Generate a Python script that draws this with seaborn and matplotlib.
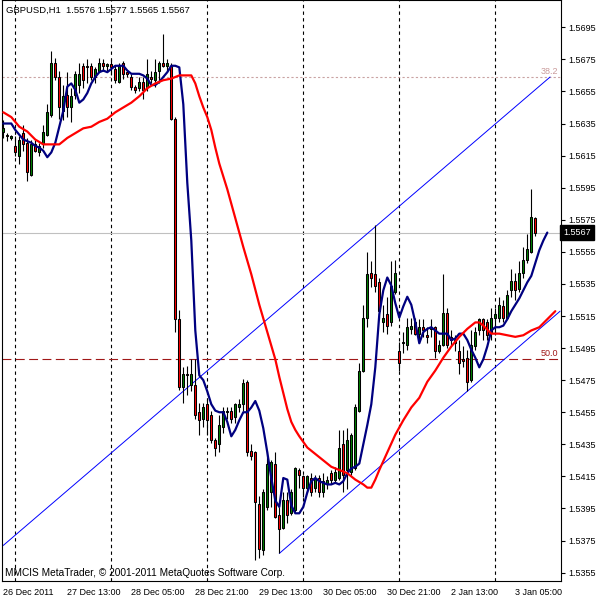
import numpy as np
import pandas as pd
import matplotlib
matplotlib.use("Agg")
import matplotlib.pyplot as plt
import matplotlib.transforms as mtransforms
import seaborn as sns

# GBPUSD H1 candles
opens = [1.5630, 1.5628, 1.5626, 1.5621, 1.5615, 1.5629, 1.5623, 1.5603, 1.5622, 1.5617,
         1.5622, 1.5628, 1.5640, 1.5673, 1.5664, 1.5643, 1.5653, 1.5645, 1.5653, 1.5659,
         1.5671, 1.5671, 1.5671, 1.5664, 1.5668, 1.5673, 1.5671, 1.5672, 1.5669, 1.5661,
         1.5673, 1.5667, 1.5664, 1.5658, 1.5657, 1.5661, 1.5658, 1.5664, 1.5662, 1.5668,
         1.5673, 1.5671, 1.5671, 1.5638, 1.5513, 1.5471, 1.5479, 1.5472, 1.5472, 1.5455,
         1.5451, 1.5460, 1.5453, 1.5438, 1.5435, 1.5446, 1.5455, 1.5456, 1.5452, 1.5458,
         1.5460, 1.5474, 1.5431, 1.5430, 1.5398, 1.5369, 1.5396, 1.5405, 1.5423, 1.5391,
         1.5383, 1.5400, 1.5392, 1.5394, 1.5419, 1.5415, 1.5408, 1.5414, 1.5408, 1.5414,
         1.5405, 1.5410, 1.5417, 1.5413, 1.5414, 1.5435, 1.5419, 1.5418, 1.5420, 1.5456,
         1.5481, 1.5514, 1.5542, 1.5541, 1.5536, 1.5511, 1.5516, 1.5511, 1.5530, 1.5493,
         1.5498, 1.5497, 1.5507, 1.5511, 1.5504, 1.5508, 1.5503, 1.5507, 1.5508, 1.5493,
         1.5497, 1.5517, 1.5502, 1.5500, 1.5493, 1.5488, 1.5489, 1.5475, 1.5496, 1.5506,
         1.5513, 1.5511, 1.5505, 1.5514, 1.5514, 1.5521, 1.5514, 1.5531, 1.5537, 1.5532,
         1.5542, 1.5550, 1.5555, 1.5576]
highs = [1.5637, 1.5629, 1.5628, 1.5627, 1.5627, 1.5634, 1.5626, 1.5625, 1.5625, 1.5623,
         1.5634, 1.5647, 1.5680, 1.5676, 1.5668, 1.5659, 1.5667, 1.5657, 1.5668, 1.5673,
         1.5673, 1.5675, 1.5673, 1.5670, 1.5676, 1.5675, 1.5673, 1.5675, 1.5671, 1.5673,
         1.5674, 1.5668, 1.5666, 1.5659, 1.5664, 1.5664, 1.5675, 1.5668, 1.5675, 1.5674,
         1.5691, 1.5675, 1.5673, 1.5639, 1.5519, 1.5483, 1.5484, 1.5488, 1.5488, 1.5461,
         1.5461, 1.5463, 1.5456, 1.5439, 1.5453, 1.5458, 1.5458, 1.5458, 1.5461, 1.5463,
         1.5476, 1.5475, 1.5435, 1.5431, 1.5403, 1.5407, 1.5431, 1.5425, 1.5430, 1.5396,
         1.5405, 1.5405, 1.5407, 1.5421, 1.5420, 1.5416, 1.5416, 1.5417, 1.5416, 1.5416,
         1.5417, 1.5415, 1.5419, 1.5421, 1.5444, 1.5444, 1.5445, 1.5442, 1.5460, 1.5486,
         1.5522, 1.5555, 1.5549, 1.5572, 1.5539, 1.5522, 1.5527, 1.5549, 1.5550, 1.5499,
         1.5505, 1.5514, 1.5514, 1.5514, 1.5513, 1.5513, 1.5508, 1.5513, 1.5509, 1.5500,
         1.5541, 1.5520, 1.5506, 1.5503, 1.5500, 1.5496, 1.5494, 1.5506, 1.5508, 1.5514,
         1.5514, 1.5513, 1.5520, 1.5520, 1.5527, 1.5525, 1.5531, 1.5544, 1.5542, 1.5549,
         1.5558, 1.5566, 1.5594, 1.5577]
lows = [1.5626, 1.5624, 1.5625, 1.5615, 1.5610, 1.5618, 1.5599, 1.5602, 1.5617, 1.5615,
        1.5620, 1.5627, 1.5639, 1.5662, 1.5638, 1.5637, 1.5639, 1.5636, 1.5650, 1.5654,
        1.5657, 1.5660, 1.5662, 1.5660, 1.5667, 1.5668, 1.5667, 1.5665, 1.5660, 1.5660,
        1.5663, 1.5664, 1.5656, 1.5654, 1.5655, 1.5650, 1.5655, 1.5660, 1.5658, 1.5660,
        1.5670, 1.5668, 1.5637, 1.5505, 1.5469, 1.5461, 1.5466, 1.5468, 1.5451, 1.5441,
        1.5446, 1.5441, 1.5436, 1.5428, 1.5430, 1.5442, 1.5451, 1.5448, 1.5448, 1.5455,
        1.5456, 1.5428, 1.5425, 1.5363, 1.5364, 1.5366, 1.5394, 1.5396, 1.5389, 1.5367,
        1.5382, 1.5386, 1.5391, 1.5392, 1.5408, 1.5402, 1.5405, 1.5403, 1.5405, 1.5402,
        1.5402, 1.5407, 1.5410, 1.5411, 1.5413, 1.5405, 1.5407, 1.5416, 1.5419, 1.5455,
        1.5480, 1.5508, 1.5533, 1.5530, 1.5513, 1.5505, 1.5504, 1.5509, 1.5529, 1.5481,
        1.5492, 1.5494, 1.5504, 1.5503, 1.5498, 1.5502, 1.5498, 1.5502, 1.5489, 1.5492,
        1.5496, 1.5495, 1.5497, 1.5493, 1.5479, 1.5483, 1.5468, 1.5474, 1.5494, 1.5503,
        1.5500, 1.5500, 1.5500, 1.5503, 1.5511, 1.5511, 1.5513, 1.5527, 1.5525, 1.5530,
        1.5539, 1.5548, 1.5554, 1.5565]
closes = [1.5632, 1.5627, 1.5627, 1.5617, 1.5625, 1.5622, 1.5605, 1.5622, 1.5618, 1.5621,
          1.5630, 1.5642, 1.5673, 1.5664, 1.5645, 1.5652, 1.5645, 1.5652, 1.5666, 1.5666,
          1.5662, 1.5670, 1.5664, 1.5669, 1.5673, 1.5671, 1.5672, 1.5670, 1.5662, 1.5671,
          1.5666, 1.5666, 1.5658, 1.5656, 1.5661, 1.5656, 1.5666, 1.5663, 1.5667, 1.5673,
          1.5671, 1.5673, 1.5638, 1.5513, 1.5471, 1.5479, 1.5478, 1.5479, 1.5453, 1.5450,
          1.5458, 1.5450, 1.5438, 1.5433, 1.5447, 1.5456, 1.5456, 1.5451, 1.5460, 1.5460,
          1.5473, 1.5430, 1.5428, 1.5399, 1.5370, 1.5405, 1.5423, 1.5424, 1.5390, 1.5382,
          1.5400, 1.5391, 1.5405, 1.5420, 1.5416, 1.5408, 1.5415, 1.5405, 1.5414, 1.5405,
          1.5412, 1.5413, 1.5413, 1.5418, 1.5433, 1.5416, 1.5438, 1.5441, 1.5458, 1.5481,
          1.5514, 1.5541, 1.5539, 1.5534, 1.5518, 1.5514, 1.5509, 1.5534, 1.5542, 1.5486,
          1.5499, 1.5508, 1.5509, 1.5504, 1.5508, 1.5506, 1.5502, 1.5508, 1.5493, 1.5497,
          1.5517, 1.5497, 1.5500, 1.5498, 1.5486, 1.5487, 1.5474, 1.5497, 1.5505, 1.5513,
          1.5506, 1.5503, 1.5514, 1.5516, 1.5522, 1.5514, 1.5528, 1.5537, 1.5531, 1.5542,
          1.5550, 1.5557, 1.5577, 1.5567]

# fast moving average (navy), one value per bar, shifted 3 bars to the right
blue_ma = [1.5635, 1.5635, 1.5635, 1.5631, 1.5628, 1.5625, 1.5624, 1.5623, 1.5621, 1.5620,
           1.5618, 1.5614, 1.5617, 1.5623, 1.5633, 1.5643, 1.5658, 1.5660, 1.5656, 1.5648,
           1.5650, 1.5654, 1.5660, 1.5664, 1.5667, 1.5668, 1.5667, 1.5669, 1.5671, 1.5671,
           1.5671, 1.5668, 1.5666, 1.5666, 1.5666, 1.5665, 1.5663, 1.5659, 1.5659, 1.5661,
           1.5664, 1.5667, 1.5671, 1.5671, 1.5670, 1.5647, 1.5598, 1.5562, 1.5506, 1.5478,
           1.5475, 1.5468, 1.5460, 1.5456, 1.5455, 1.5455, 1.5449, 1.5440, 1.5444, 1.5450,
           1.5455, 1.5455, 1.5458, 1.5462, 1.5456, 1.5445, 1.5430, 1.5414, 1.5400, 1.5396,
           1.5414, 1.5413, 1.5397, 1.5392, 1.5392, 1.5396, 1.5405, 1.5412, 1.5414, 1.5412,
           1.5411, 1.5410, 1.5410, 1.5411, 1.5410, 1.5412, 1.5417, 1.5420, 1.5421, 1.5423,
           1.5435, 1.5447, 1.5460, 1.5483, 1.5516, 1.5531, 1.5539, 1.5534, 1.5523, 1.5514,
           1.5521, 1.5527, 1.5522, 1.5511, 1.5498, 1.5505, 1.5507, 1.5508, 1.5506, 1.5504,
           1.5504, 1.5504, 1.5500, 1.5501, 1.5504, 1.5504, 1.5500, 1.5494, 1.5489, 1.5483,
           1.5488, 1.5496, 1.5506, 1.5508, 1.5508, 1.5509, 1.5513, 1.5518, 1.5522, 1.5526,
           1.5531, 1.5536, 1.5540, 1.5548, 1.5556, 1.5562, 1.5567]

# slow moving average (red), sampled at these bars
red_bars = [0, 2, 4, 6, 8, 10, 12, 14, 16, 18, 20, 22, 24, 26, 28, 30, 32, 34, 36, 38,
            40, 42, 44, 46, 47, 48, 49, 50, 51, 52, 53, 54, 56, 58, 60, 62, 64, 66, 68, 69,
            70, 71, 72, 73, 74, 76, 78, 80, 82, 84, 86, 88, 90, 91, 92, 93, 94, 96, 98, 100,
            102, 104, 106, 108, 110, 112, 114, 116, 118, 119, 120, 122, 124, 126, 128, 130,
            132, 134, 136, 138]
red_ma = [1.5642, 1.5639, 1.5633, 1.5630, 1.5625, 1.5622, 1.5622, 1.5622, 1.5626, 1.5629,
          1.5632, 1.5633, 1.5636, 1.5638, 1.5642, 1.5645, 1.5648, 1.5652, 1.5657, 1.5660,
          1.5662, 1.5663, 1.5665, 1.5665, 1.5665, 1.5660, 1.5652, 1.5645, 1.5639, 1.5631,
          1.5620, 1.5610, 1.5594, 1.5576, 1.5558, 1.5541, 1.5522, 1.5505, 1.5488, 1.5477,
          1.5467, 1.5457, 1.5449, 1.5444, 1.5440, 1.5433, 1.5429, 1.5425, 1.5421, 1.5419,
          1.5417, 1.5413, 1.5410, 1.5408, 1.5408, 1.5413, 1.5419, 1.5430, 1.5441, 1.5450,
          1.5458, 1.5464, 1.5474, 1.5481, 1.5489, 1.5496, 1.5502, 1.5507, 1.5511, 1.5511,
          1.5509, 1.5504, 1.5504, 1.5503, 1.5502, 1.5503, 1.5506, 1.5508, 1.5513, 1.5518]

# trend channel (bar, price) end points
upper_bars = [0, 136.7]
upper_prices = [1.5372, 1.5664]
lower_bars = [69, 139.2]
lower_prices = [1.5367, 1.5518]

# fibonacci levels
fib_labels = ['38.2', '50.0']
fib_prices = [1.5664, 1.5488]

# day separators (00:00 bars) and time axis
day_bars = [3, 27, 51, 75, 99, 123]
x_tick_bars = [0, 16, 32, 48, 64, 80, 96, 112, 128]
x_tick_labels = ['26 Dec 2011', '27 Dec 13:00', '28 Dec 05:00', '28 Dec 21:00',
                 '29 Dec 13:00', '30 Dec 05:00', '30 Dec 21:00', '2 Jan 13:00',
                 '3 Jan 05:00']
y_ticks = [1.5695, 1.5675, 1.5655, 1.5635, 1.5615, 1.5595, 1.5575, 1.5555, 1.5535,
           1.5515, 1.5495, 1.5475, 1.5455, 1.5435, 1.5415, 1.5395, 1.5375, 1.5355]

sns.set_style("white")
plt.rcParams['font.family'] = ['Liberation Sans', 'DejaVu Sans']
FS = 6.5

df = pd.DataFrame({'open': opens, 'high': highs, 'low': lows, 'close': closes})
df['bar'] = np.arange(len(df))
df['up'] = df['close'] >= df['open']
df['body_low'] = df[['open', 'close']].min(axis=1)
df['body_h'] = (df['close'] - df['open']).abs()

blue_df = pd.DataFrame({'bar': np.arange(len(blue_ma)), 'value': blue_ma})
red_df = pd.DataFrame({'bar': red_bars, 'value': red_ma})

fig = plt.figure(figsize=(6, 6), dpi=100)
ax = fig.add_axes([2 / 600, 19 / 600, 559 / 600, 581 / 600])

# vertical day separators
for d in day_bars:
    ax.axvline(d, color='black', lw=0.8, ls=(0, (3, 3)), zorder=1)

# fibo levels and bid line
ax.axhline(fib_prices[0], color='#c9a3a3', lw=0.8, ls=(0, (2, 2)), zorder=1)
ax.axhline(fib_prices[1], color='#a01818', lw=0.8, ls=(0, (8, 4)), zorder=1)
ax.axhline(closes[-1], color='#c0c0c0', lw=0.8, zorder=1)
trans = mtransforms.blended_transform_factory(ax.transAxes, ax.transData)
ax.text(0.9955, fib_prices[0] + 0.00008, fib_labels[0], transform=trans, ha='right',
        va='bottom', fontsize=FS, color='#c99a9a')
ax.text(0.9955, fib_prices[1] + 0.00008, fib_labels[1], transform=trans, ha='right',
        va='bottom', fontsize=FS, color='#a01818')

# trend channel
ax.plot(upper_bars, upper_prices, color='#0000ff', lw=0.7, zorder=2)
ax.plot(lower_bars, lower_prices, color='#0000ff', lw=0.7, zorder=2)

# candles
ax.vlines(df['bar'], df['low'], df['high'], color='black', lw=0.8, zorder=3)
ax.bar(df['bar'], df['body_h'], bottom=df['body_low'], width=0.5,
       color=np.where(df['up'], '#008000', '#ff0000'), edgecolor='black',
       linewidth=0.75, zorder=4)

# moving averages
sns.lineplot(data=blue_df, x='bar', y='value', color='#000080', linewidth=1.6,
             ax=ax, zorder=5)
sns.lineplot(data=red_df, x='bar', y='value', color='#ff0000', linewidth=1.6,
             ax=ax, zorder=5)

ax.set_xlim(-0.325, 139.425)
ax.set_ylim(1.53498, 1.57120)
ax.set_xlabel('')
ax.set_ylabel('')

ax.yaxis.tick_right()
ax.set_yticks(y_ticks)
ax.set_yticklabels([f'{v:.4f}' for v in y_ticks])
ax.set_xticks(x_tick_bars)
ax.set_xticklabels(x_tick_labels)
for lab in ax.get_xticklabels():
    lab.set_horizontalalignment('left')
ax.tick_params(axis='both', direction='out', length=3, width=0.8, colors='black',
               labelsize=FS, pad=2)

for sp in ax.spines.values():
    sp.set_color('black')
    sp.set_linewidth(0.8)

# current price tag
ax.text(1.004, closes[-1], f'{closes[-1]:.4f}', transform=trans, ha='left', va='center',
        fontsize=FS, color='white',
        bbox=dict(boxstyle='square,pad=0.35', facecolor='black', edgecolor='black'))

ax.text(4 / 559, 1 - 6 / 581, 'GBPUSD,H1  1.5576 1.5577 1.5565 1.5567',
        transform=ax.transAxes, ha='left', va='top', fontsize=6.8, color='black')
ax.text(3 / 559, 3 / 581, 'MMCIS MetaTrader, © 2001-2011 MetaQuotes Software Corp.',
        transform=ax.transAxes, ha='left', va='bottom', fontsize=7.3, color='black')

fig.savefig('out.png', dpi=100, facecolor='white')
